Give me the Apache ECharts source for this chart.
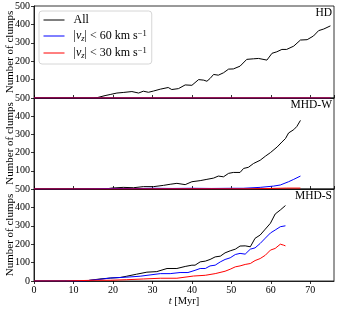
<!DOCTYPE html>
<html><head><meta charset="utf-8">
<script src="https://cdn.jsdelivr.net/npm/echarts@6/dist/echarts.min.js"></script>
<style>html,body{margin:0;padding:0;background:#fff}#c{width:341px;height:312px}</style>
</head><body><div id="c"></div>
<script>
// ---- data (t in Myr, number of clumps) ----
const panelNames = ['HD', 'MHD-W', 'MHD-S'];
const seriesNames = ['All', 'v60', 'v30'];
const xTicks = [0, 10, 20, 30, 40, 50, 60, 70];
const yTicks = [0, 100, 200, 300, 400, 500];

const hdT = [0, 5, 10, 15, 16, 18, 19.3, 21, 22.6, 24.8, 26.5, 27.7, 29, 30.3, 32, 34, 34.9, 36.6, 38.3, 40, 41.7, 43, 43.8, 44.6, 45.5, 46.7, 48, 49.3, 50.5, 52.2, 53.9, 55.6, 56.9, 59, 60.3, 61.5, 62.8, 64, 65.8, 67.5, 69.2, 70.8, 72.1, 73.4, 75.1];
const hdAll = [0, 0, 0, 0, 2, 13, 19, 27, 30, 35, 27, 37, 31, 38, 48, 57, 46, 51, 71, 69, 100, 97, 91, 106, 128, 124, 137, 157, 158, 173, 210, 213, 215, 206, 243, 251, 264, 264, 282, 315, 317, 337, 366, 375, 392];
const hd60T = [0, 75.1];
const hd60 = [0, 0];
const hd30T = [0, 75.1];
const hd30 = [0, 0];

const mwT = [0, 10, 18, 19.7, 22.6, 25.2, 27.7, 30.3, 32.8, 34.5, 36.2, 38.3, 40, 42.1, 43.8, 45.5, 46.7, 48, 49.3, 50.5, 52.2, 53.1, 54.3, 55.6, 57.3, 58.6, 59.9, 61.6, 62.8, 63.7, 64.5, 65.8, 66.6, 67.5];
const mwAll = [0, 0, 0, 5, 9, 7, 13, 13, 20, 26, 31, 24, 40, 46, 53, 60, 71, 67, 86, 91, 91, 113, 119, 140, 158, 180, 200, 231, 258, 277, 308, 326, 344, 377];
const mw60T = [0, 10, 15, 20, 25, 30, 35, 40, 45, 50, 53, 57.3, 60.7, 62.4, 64.5, 65.8, 67.5];
const mw60 = [0, 0, 1, 3, 2, 4, 3, 4, 3, 4, 4, 9, 16, 22, 40, 53, 71];
const mw30T = [0, 20, 40, 55, 60, 64, 67.5];
const mw30 = [0, 0, 1, 1, 3, 5, 5];

const msT = [0, 13, 14.2, 16.7, 19.3, 21.8, 23.5, 26, 28.6, 31.1, 33.7, 36.2, 38.3, 40, 40.8, 42.1, 43.4, 44.6, 45.9, 47.2, 48.4, 49.7, 51, 52.2, 53.5, 54.8, 56, 57.3, 58.6, 59.9, 61.1, 62.4, 63.7];
const msAll = [0, 0, 4, 11, 16, 19, 26, 37, 48, 51, 68, 68, 79, 86, 86, 104, 108, 117, 131, 135, 153, 164, 173, 190, 191, 186, 232, 250, 282, 314, 364, 386, 410];
const ms60T = [0, 13, 14.2, 16.7, 19.3, 21.8, 24.3, 26.9, 29.4, 32, 34.5, 37, 39, 40.8, 42.1, 43.4, 44.6, 45.9, 47.2, 48.4, 49.7, 51, 52.2, 53.5, 54.8, 56, 57.3, 58.6, 59.9, 61.1, 62.4, 63.7];
const ms60 = [0, 0, 4, 9, 16, 19, 22, 26, 33, 40, 40, 46, 46, 58, 68, 68, 82, 86, 104, 117, 126, 144, 150, 146, 173, 180, 204, 233, 261, 277, 295, 300];
const ms30T = [0, 8, 15, 19.3, 23.5, 27.7, 32, 36.2, 40.4, 43.4, 45.9, 48.4, 49.7, 51, 52.2, 53.5, 54.8, 56, 57.3, 58.6, 59.9, 61.1, 62.4, 63.2, 63.7];
const ms30 = [0, 0, 4, 4, 7, 11, 15, 15, 27, 31, 40, 53, 64, 77, 82, 90, 95, 111, 122, 140, 168, 177, 200, 195, 191];

// ---- build ----
const F = '"Liberation Serif", "DejaVu Serif", serif';
const colors = ['#000000', '#0000ff', '#ff0000'];
const panels = [
  [[hdT, hdAll], [hd60T, hd60], [hd30T, hd30]],
  [[mwT, mwAll], [mw60T, mw60], [mw30T, mw30]],
  [[msT, msAll], [ms60T, ms60], [ms30T, ms30]]
];
const gridTops = [6, 98, 189];
const gridHeights = [92, 91, 92];
const pair = (t, v) => t.map((x, i) => [x, v[i]]);

const grid = [], xAxis = [], yAxis = [], series = [], title = [];
panels.forEach((p, k) => {
  grid.push({left: 34, right: 7, top: gridTops[k], height: gridHeights[k], outerBoundsMode: 'none',
    show: true, borderColor: '#000', borderWidth: 0.8, backgroundColor: 'transparent'});
  const last = k === 2;
  xAxis.push({
    type: 'value', gridIndex: k, min: xTicks[0], max: 76, interval: 10,
    axisLine: {show: true, onZero: false, lineStyle: {color: '#000', width: 0.8}},
    axisTick: {show: true, inside: !last, length: 3, lineStyle: {color: '#000', width: 0.8}},
    axisLabel: {show: last, color: '#000', fontFamily: F, fontSize: 10, margin: 4, showMaxLabel: false,
      formatter: v => (xTicks.indexOf(v) >= 0 ? String(v) : '')},
    splitLine: {show: false},
    name: last ? '{i|t} [Myr]' : '', nameLocation: 'middle', nameGap: 15, nameMoveOverlap: false,
    nameTextStyle: {color: '#000', fontFamily: F, fontSize: 10.5, rich: {i: {fontStyle: 'italic', fontFamily: F, fontSize: 10.5, color: '#000'}}}
  });
  yAxis.push({
    type: 'value', gridIndex: k, min: yTicks[0], max: yTicks[yTicks.length - 1], interval: 100,
    axisLine: {show: true, lineStyle: {color: '#000', width: 0.8}},
    axisTick: {show: true, length: 3, lineStyle: {color: '#000', width: 0.8}},
    axisLabel: {show: true, color: '#000', fontFamily: F, fontSize: 10, margin: 4, showMinLabel: last},
    splitLine: {show: false},
    name: 'Number of clumps', nameLocation: 'middle', nameGap: 18, nameMoveOverlap: false,
    nameTextStyle: {color: '#000', fontFamily: F, fontSize: 11}
  });
  p.forEach((s, j) => {
    series.push({
      type: 'line', name: seriesNames[j], xAxisIndex: k, yAxisIndex: k,
      data: pair(s[0], s[1]), showSymbol: false, symbol: 'none', z: 2 + j, color: colors[j],
      lineStyle: {color: colors[j], width: 1}, itemStyle: {color: colors[j]}
    });
  });
  title.push({text: panelNames[k], right: 9, top: gridTops[k] + 1, padding: 0,
    textStyle: {color: '#000', fontFamily: F, fontSize: 11.5, fontWeight: 'normal'}});
});

const legendText = {
  'All': 'All',
  'v60': '|{i|v}{sub|z}| < 60 km s{sup|−1}',
  'v30': '|{i|v}{sub|z}| < 30 km s{sup|−1}'
};

const chart = echarts.init(document.getElementById('c'), null, {renderer: 'canvas'});
chart.setOption({
  animation: false,
  backgroundColor: '#fff',
  title, grid, xAxis, yAxis, series,
  legend: {
    data: seriesNames.map((n, j) => ({name: n,
      itemStyle: {color: colors[j], opacity: 0, borderWidth: 0},
      lineStyle: {color: colors[j], width: 1, opacity: 1}})),
    left: 39, top: 11, orient: 'vertical',
    padding: [3, 5, 4, 4], itemGap: 3, itemWidth: 21, itemHeight: 10,
    backgroundColor: 'rgba(255,255,255,0.85)', borderColor: '#cccccc', borderWidth: 0.8, borderRadius: 3,
    formatter: n => legendText[n],
    textStyle: {color: '#000', fontFamily: F, fontSize: 12, padding: [0, 0, 0, 4],
      rich: {
        i: {fontStyle: 'italic', fontFamily: F, fontSize: 12, color: '#000'},
        sub: {fontStyle: 'italic', fontFamily: F, fontSize: 8.5, color: '#000', verticalAlign: 'bottom', padding: [4, 0, 0, 0]},
        sup: {fontFamily: F, fontSize: 8.5, color: '#000', verticalAlign: 'top', padding: [0, 0, 5, 0]}
      }}
  }
});
</script></body></html>
